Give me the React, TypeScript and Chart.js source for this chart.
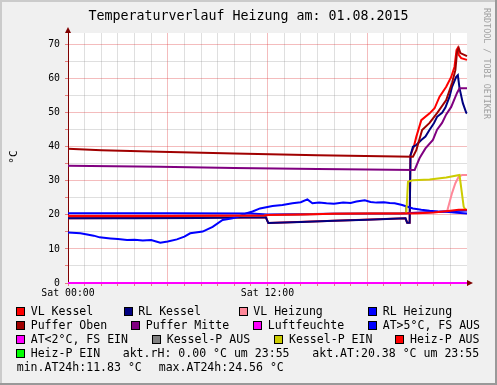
import React, { useEffect, useRef } from "react";
import { Chart, registerables } from "chart.js";

Chart.register(...registerables);

// ---------- data ----------
const TITLE = "Temperaturverlauf Heizung am: 01.08.2015";
const Y_TITLE = "°C";
const SIDE_TEXT = "RRDTOOL / TOBI OETIKER";
const X_TICK_LABELS: Record<number, string> = { 0: "Sat 00:00", 12: "Sat 12:00" };

const vlKesselHours = [0, 11.9, 12.05, 16, 20.3, 20.4, 20.55, 20.6, 20.8, 20.95, 21.25, 21.75, 22.05, 22.35, 22.75, 23.05, 23.25, 23.37, 23.43, 23.5, 23.65, 24];
const vlKesselValues = [19.0, 19.3, 17.6, 18.3, 19.0, 17.7, 17.7, 37.5, 40.0, 42.9, 47.8, 49.8, 51.3, 54.7, 57.6, 60.5, 63.5, 68.4, 68.9, 67.0, 66.0, 65.5];

const rlKesselHours = [0, 4, 8, 11.9, 12.05, 14, 16, 18, 20.3, 20.4, 20.55, 20.6, 20.75, 20.95, 21.25, 21.5, 21.75, 22.0, 22.2, 22.5, 22.7, 22.95, 23.1, 23.35, 23.45, 23.55, 23.75, 23.95, 24];
const rlKesselValues = [19.0, 19.0, 19.1, 19.3, 17.6, 17.9, 18.3, 18.6, 19.0, 17.7, 17.7, 37.5, 40.0, 40.5, 42.0, 43.0, 45.0, 46.8, 48.8, 50.0, 51.5, 54.7, 57.6, 60.5, 61.0, 57.2, 52.8, 50.0, 49.8];

const vlHeizungHours = [0, 12, 16, 20, 22.8, 23.1, 23.3, 23.5, 23.7, 24];
const vlHeizungValues = [19.7, 20.0, 20.3, 20.5, 21.0, 26.4, 29.3, 31.2, 31.7, 31.7];

const rlHeizungHours = [0, 6, 11, 12, 16, 20, 24];
const rlHeizungValues = [20.45, 20.45, 20.4, 20.1, 20.3, 20.4, 21.3];

const pufferObenHours = [0, 2, 5.5, 10, 15, 20.75, 20.95, 21.3, 21.75, 22.2, 22.75, 23.1, 23.3, 23.4, 23.5, 23.6, 24];
const pufferObenValues = [39.4, 39.0, 38.5, 38.0, 37.5, 37.1, 39.0, 44.9, 47.0, 49.9, 53.7, 58.7, 62.5, 67.8, 69.0, 67.5, 66.6];

const pufferMitteHours = [0, 5.5, 10, 15, 20.85, 21.15, 21.5, 21.95, 22.2, 22.5, 22.75, 23.05, 23.4, 23.55, 24];
const pufferMitteValues = [34.4, 34.1, 33.8, 33.5, 33.2, 36.7, 39.5, 42.0, 45.0, 47.0, 49.5, 51.7, 55.8, 57.2, 57.2];

const luftfeuchteHours = [0, 24];
const luftfeuchteValues = [0, 0];

const atWarmHours = [0, 0.75, 1.55, 1.9, 2.55, 3.0, 3.55, 4.0, 4.5, 5.0, 5.55, 6.0, 6.55, 7.0, 7.35, 8.1, 8.7, 9.3, 9.9, 10.3, 10.75, 11.1, 11.55, 12.3, 12.9, 13.5, 14.0, 14.4, 14.7, 15.1, 15.55, 16.0, 16.55, 17.0, 17.35, 17.85, 18.2, 18.55, 19.0, 19.35, 19.65, 20.1, 20.75, 21.25, 21.75, 22.25, 22.75, 23.4, 24];
const atWarmValues = [14.8, 14.6, 13.9, 13.4, 13.1, 12.9, 12.6, 12.7, 12.5, 12.6, 11.83, 12.2, 12.8, 13.6, 14.6, 15.1, 16.5, 18.5, 19.0, 19.6, 20.5, 21.0, 21.9, 22.6, 22.9, 23.4, 23.7, 24.56, 23.4, 23.6, 23.4, 23.3, 23.6, 23.5, 23.9, 24.3, 23.8, 23.6, 23.7, 23.5, 23.4, 22.9, 21.9, 21.5, 21.2, 21.0, 20.9, 20.6, 20.38];

const atColdHours: number[] = [];
const atColdValues: number[] = [];

const kesselPAusHours = [0, 6, 11.8, 12, 14, 16, 18, 20, 20.3, 20.33];
const kesselPAusValues = [19.7, 19.7, 19.8, 20.0, 20.1, 20.3, 20.4, 20.4, 20.4, 22.4];

const kesselPEinHours = [20.35, 20.45, 20.75, 21.75, 22.75, 23.55, 23.8, 23.9];
const kesselPEinValues = [20.5, 29.7, 30.2, 30.4, 31.0, 31.7, 22.4, 21.6];

const heizPAusHours = [0, 6, 11.8, 12, 14, 16, 18, 20, 21, 22, 23, 23.5, 24];
const heizPAusValues = [19.7, 19.7, 19.8, 20.0, 20.1, 20.3, 20.4, 20.4, 20.5, 20.7, 21.2, 21.5, 21.5];

const heizPEinHours: number[] = [];
const heizPEinValues: number[] = [];

const SERIES_LABELS = [
  "VL Kessel", "RL Kessel", "VL Heizung", "RL Heizung",
  "Puffer Oben", "Puffer Mitte", "Luftfeuchte", "AT>5°C, FS AUS",
  "AT<2°C, FS EIN", "Kessel-P AUS", "Kessel-P EIN", "Heiz-P AUS", "Heiz-P EIN",
];
const SERIES_HOURS = [
  vlKesselHours, rlKesselHours, vlHeizungHours, rlHeizungHours,
  pufferObenHours, pufferMitteHours, luftfeuchteHours, atWarmHours,
  atColdHours, kesselPAusHours, kesselPEinHours, heizPAusHours, heizPEinHours,
];
const SERIES_VALUES = [
  vlKesselValues, rlKesselValues, vlHeizungValues, rlHeizungValues,
  pufferObenValues, pufferMitteValues, luftfeuchteValues, atWarmValues,
  atColdValues, kesselPAusValues, kesselPEinValues, heizPAusValues, heizPEinValues,
];

const INFO_RH = "akt.rH: 0.00 °C um 23:55";
const INFO_AT = "akt.AT:20.38 °C um 23:55";
const INFO_MIN = "min.AT24h:11.83 °C";
const INFO_MAX = "max.AT24h:24.56 °C";

// ---------- styles ----------
const COLORS = [
  "#ff0000", "#000080", "#ff8899", "#0000ff",
  "#a00000", "#800080", "#ff00ff", "#0000ff",
  "#ff00ff", "#808080", "#cccc00", "#ff0000", "#00ff00",
];
const MONO = "'DejaVu Sans Mono', monospace";

// legend layout: [series index, text left, row]
const LEGEND_LAYOUT: [number, number, number][] = [
  [0, 30.7, 0], [1, 138.3, 0], [2, 253.3, 0], [3, 382.7, 0],
  [4, 30.7, 1], [5, 145.7, 1], [6, 267.7, 1], [7, 382.7, 1],
  [8, 30.7, 2], [9, 166.7, 2], [10, 289, 2], [11, 410, 2],
  [12, 30.7, 3],
];
const ROW_Y = [311, 325, 339, 353, 367];

const arrowPlugin = {
  id: "rrdArrows",
  afterDraw(chart: any) {
    const { ctx, chartArea: a } = chart;
    ctx.save();
    ctx.fillStyle = "#7f0000";
    ctx.beginPath();
    ctx.moveTo(a.left - 3, a.top);
    ctx.lineTo(a.left + 3, a.top);
    ctx.lineTo(a.left, a.top - 6);
    ctx.closePath();
    ctx.fill();
    ctx.beginPath();
    ctx.moveTo(a.right, a.bottom - 3);
    ctx.lineTo(a.right, a.bottom + 3);
    ctx.lineTo(a.right + 6, a.bottom);
    ctx.closePath();
    ctx.fill();
    ctx.restore();
  },
};

function ChartCanvas() {
  const ref = useRef<HTMLCanvasElement>(null);
  useEffect(() => {
    if (!ref.current) return;
    const n = SERIES_LABELS.length;
    const datasets = SERIES_LABELS.map((label, i) => ({
      label,
      data: SERIES_HOURS[i].map((h, j) => ({ x: h, y: SERIES_VALUES[i][j] })),
      borderColor: COLORS[i],
      backgroundColor: COLORS[i],
      borderWidth: 2,
      pointRadius: 0,
      tension: 0,
      fill: false,
      clip: 4,
      order: n - i,
    }));
    const tickFont = { family: MONO, size: 9.85 };
    const majorRed = "rgba(222,48,50,0.32)";
    const minorGrey = "rgba(140,140,140,0.28)";
    const chart = new Chart(ref.current, {
      type: "line",
      data: { datasets },
      plugins: [arrowPlugin],
      options: {
        responsive: false,
        animation: false,
        devicePixelRatio: 1,
        layout: { padding: { left: 0, top: 33, right: 30, bottom: 0 } },
        plugins: {
          legend: { display: false },
          title: { display: false },
          tooltip: { enabled: false },
        },
        scales: {
          x: {
            type: "linear",
            min: 0,
            max: 24,
            afterFit: (s: any) => { s.height = 22; },
            ticks: {
              stepSize: 1,
              autoSkip: false,
              maxRotation: 0,
              padding: 2,
              color: "#000",
              font: tickFont,
              callback: (v: any) => X_TICK_LABELS[v as number] ?? "",
            },
            grid: {
              color: (c: any) => {
                const v = c.tick?.value;
                if (v === 24 || v === 0) return "rgba(0,0,0,0)";
                return v % 6 === 0 ? majorRed : minorGrey;
              },
              tickLength: 3,
              tickColor: "rgba(222,48,50,0.6)",
            },
            border: { color: "#800000", width: 1 },
          },
          y: {
            type: "linear",
            min: 0,
            max: 73.4,
            afterFit: (s: any) => { s.width = 68; },
            afterBuildTicks: (s: any) => {
              s.ticks = s.ticks.filter((t: any) => Math.abs(t.value % 5) < 1e-9);
            },
            ticks: {
              stepSize: 5,
              padding: 5,
              color: "#000",
              font: tickFont,
              callback: (v: any) => (v % 10 === 0 ? String(v) : ""),
            },
            grid: {
              color: (c: any) => {
                const v = c.tick?.value;
                if (v === 0) return "rgba(0,0,0,0)";
                return v % 10 === 0 ? majorRed : minorGrey;
              },
              tickLength: 3,
              tickColor: "rgba(222,48,50,0.6)",
            },
            border: { color: "#800000", width: 1 },
          },
        },
      },
    } as any);
    return () => chart.destroy();
  }, []);
  return (
    <canvas
      ref={ref}
      width={497}
      height={305}
      style={{ position: "absolute", left: 0, top: 0, width: 497, height: 305 }}
    />
  );
}

export default function App() {
  const text = (s: string, left: number, cy: number, key: string) => (
    <div
      key={key}
      style={{
        position: "absolute",
        left,
        top: cy - 7,
        height: 14,
        lineHeight: "14px",
        fontFamily: MONO,
        fontSize: 11.55,
        whiteSpace: "pre",
        color: "#000",
      }}
    >
      {s}
    </div>
  );
  return (
    <div
      style={{
        position: "absolute",
        left: 0,
        top: 0,
        width: 497,
        height: 385,
        background: "#f0f0f0",
        overflow: "hidden",
      }}
    >
      {/* 3D frame */}
      <div style={{ position: "absolute", left: 0, top: 0, width: 497, height: 2, background: "#cbcbcb" }} />
      <div style={{ position: "absolute", left: 0, top: 0, width: 2, height: 385, background: "#cbcbcb" }} />
      <div style={{ position: "absolute", left: 0, top: 383, width: 497, height: 2, background: "#999999" }} />
      <div style={{ position: "absolute", left: 495, top: 0, width: 2, height: 385, background: "#999999" }} />
      {/* white canvas area */}
      <div style={{ position: "absolute", left: 68, top: 33, width: 399, height: 250, background: "#ffffff" }} />
      <ChartCanvas />
      <div
        style={{
          position: "absolute",
          left: 0,
          width: 497,
          top: 8,
          height: 16,
          lineHeight: "16px",
          textAlign: "center",
          fontFamily: MONO,
          fontSize: 13.3,
          color: "#000",
          whiteSpace: "pre",
        }}
      >
        {TITLE}
      </div>
      <div
        style={{
          position: "absolute",
          left: 14,
          top: 157,
          transform: "translate(-50%, -50%) rotate(-90deg)",
          fontFamily: MONO,
          fontSize: 11,
          lineHeight: "12px",
          whiteSpace: "pre",
          color: "#000",
        }}
      >
        {Y_TITLE}
      </div>
      <div
        style={{
          position: "absolute",
          left: 482,
          top: 8,
          writingMode: "vertical-rl",
          fontFamily: MONO,
          fontSize: 8.4,
          lineHeight: "10px",
          color: "#a0a0a0",
          whiteSpace: "pre",
        }}
      >
        {SIDE_TEXT}
      </div>
      {LEGEND_LAYOUT.map(([idx, left, row]) => (
        <React.Fragment key={"lg" + idx}>
          <div
            style={{
              position: "absolute",
              left: left - 14.7,
              top: ROW_Y[row] - 4.5,
              width: 7,
              height: 7,
              border: "1px solid #000",
              background: COLORS[idx],
            }}
          />
          {text(SERIES_LABELS[idx], left, ROW_Y[row], "t" + idx)}
        </React.Fragment>
      ))}
      {text(INFO_RH, 122.7, ROW_Y[3], "rh")}
      {text(INFO_AT, 312.3, ROW_Y[3], "at")}
      {text(INFO_MIN, 16.7, ROW_Y[4], "min")}
      {text(INFO_MAX, 158.7, ROW_Y[4], "max")}
    </div>
  );
}
